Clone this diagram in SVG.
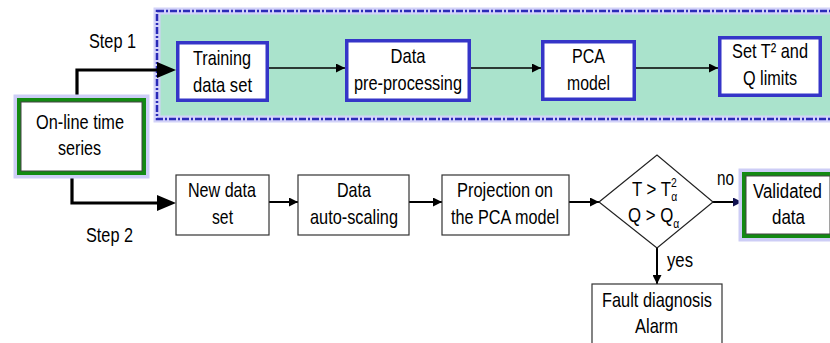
<svg xmlns="http://www.w3.org/2000/svg" width="830" height="343" viewBox="0 0 830 343">
<style>
text{font-family:"Liberation Sans",Arial,sans-serif;font-size:21px;fill:#000;text-anchor:middle}
.st{text-anchor:start}
.bbox{fill:#fff;stroke:#3535c8;stroke-width:3.5}
.pbox{fill:#fff;stroke:#333;stroke-width:1.2}
.glow{fill:none;stroke:#cdcdf6;stroke-width:7}
.gbox{fill:#fff;stroke:#138a13;stroke-width:4}
.inner{fill:none;stroke:#444;stroke-width:1}
.thin{fill:none;stroke:#000;stroke-width:1.6}
.thick{fill:none;stroke:#000;stroke-width:3.2}
</style>
<defs>
<marker id="a" viewBox="0 0 10 10" refX="10" refY="5" markerWidth="9" markerHeight="9" markerUnits="userSpaceOnUse" orient="auto"><path d="M0,0L10,5L0,10z" fill="#000"/></marker>
<marker id="an" viewBox="0 0 10 10" refX="10" refY="5" markerWidth="9" markerHeight="9" markerUnits="userSpaceOnUse" orient="auto"><path d="M0,0L10,5L0,10z" fill="#101050"/></marker>
</defs>

<g id="panel">
<rect x="157" y="11" width="690" height="108" fill="#aae3cc" stroke="#d2d2f8" stroke-width="7"/>
<rect x="157" y="11" width="690" height="108" fill="none" stroke="#2a2ab8" stroke-width="2.5" stroke-dasharray="7,2,2,2"/>
</g>

<g id="connectors">
<path class="thick" d="M77,98V70H162"/>
<path d="M157,62L176,70L157,78z" fill="#000"/>
<path class="thick" d="M72,175V203H162"/>
<path d="M157,195L176,203L157,211z" fill="#000"/>
<path class="thin" d="M269,68H345" marker-end="url(#a)"/>
<path class="thin" d="M471,68H541" marker-end="url(#a)"/>
<path class="thin" d="M636,68H718" marker-end="url(#a)"/>
<path class="thin" d="M269,202H298" marker-end="url(#a)" style="stroke-width:2"/>
<path class="thin" d="M409,202H442" marker-end="url(#a)" style="stroke-width:2"/>
<path class="thin" d="M569,202H599" marker-end="url(#a)" style="stroke-width:2"/>
<path class="thin" d="M713,202H742" marker-end="url(#an)" style="stroke-width:2"/>
<path class="thin" d="M657,248V284" marker-end="url(#a)" style="stroke-width:2"/>
<text x="112.5" y="48" textLength="47" lengthAdjust="spacingAndGlyphs">Step 1</text>
<text x="109.5" y="242" textLength="47" lengthAdjust="spacingAndGlyphs">Step 2</text>
<text class="st" x="717" y="185" textLength="17" lengthAdjust="spacingAndGlyphs">no</text>
<text class="st" x="667" y="267" textLength="26" lengthAdjust="spacingAndGlyphs">yes</text>
</g>

<g id="online">
<rect class="glow" x="17" y="98" width="129" height="77"/>
<rect class="gbox" x="19" y="100" width="125" height="73"/>
<rect class="inner" x="21" y="102" width="121" height="69"/>
<text x="80" y="129" textLength="88" lengthAdjust="spacingAndGlyphs">On-line time</text>
<text x="79.5" y="155" textLength="43" lengthAdjust="spacingAndGlyphs">series</text>
</g>

<g id="training">
<rect class="bbox" x="177.75" y="42.75" width="89.5" height="57.5"/>
<text x="222" y="65" textLength="58" lengthAdjust="spacingAndGlyphs">Training</text>
<text x="222.5" y="92" textLength="59" lengthAdjust="spacingAndGlyphs">data set</text>
</g>

<g id="preproc">
<rect class="bbox" x="346.75" y="40.75" width="122.5" height="59.5"/>
<text x="408" y="63" textLength="35" lengthAdjust="spacingAndGlyphs">Data</text>
<text x="408" y="90" textLength="108" lengthAdjust="spacingAndGlyphs">pre-processing</text>
</g>

<g id="pca">
<rect class="bbox" x="542.75" y="41.75" width="91.5" height="57.5"/>
<text x="588.5" y="63" textLength="33" lengthAdjust="spacingAndGlyphs">PCA</text>
<text x="588.5" y="90" textLength="43" lengthAdjust="spacingAndGlyphs">model</text>
</g>

<g id="limits">
<rect class="bbox" x="719.75" y="37.75" width="100.5" height="57.5"/>
<text x="770" y="58" textLength="76" lengthAdjust="spacingAndGlyphs">Set T²  and</text>
<text x="770" y="85" textLength="54" lengthAdjust="spacingAndGlyphs">Q limits</text>
</g>

<g id="newdata">
<rect class="pbox" x="176" y="175" width="93" height="60"/>
<text x="222" y="197" textLength="68" lengthAdjust="spacingAndGlyphs">New data</text>
<text x="222.5" y="224" textLength="21" lengthAdjust="spacingAndGlyphs">set</text>
</g>

<g id="autoscale">
<rect class="pbox" x="298" y="175" width="111" height="60"/>
<text x="354" y="197" textLength="34" lengthAdjust="spacingAndGlyphs">Data</text>
<text x="354" y="224" textLength="88" lengthAdjust="spacingAndGlyphs">auto-scaling</text>
</g>

<g id="projection">
<rect class="pbox" x="442" y="175" width="127" height="60"/>
<text x="505" y="197" textLength="96" lengthAdjust="spacingAndGlyphs">Projection on</text>
<text x="505" y="224" textLength="108" lengthAdjust="spacingAndGlyphs">the PCA model</text>
</g>

<g id="decision">
<path d="M599,202L657,155L713,202L657,248z" fill="#fff" stroke="#222" stroke-width="1.2"/>
<text class="st" transform="translate(632,196) scale(0.8,1)">T &gt; T<tspan font-size="13" dy="-9">2</tspan><tspan font-size="13" dx="-7" dy="14">α</tspan></text>
<text class="st" transform="translate(628,222) scale(0.8,1)">Q &gt; Q<tspan font-size="13" dy="6">α</tspan></text>
</g>

<g id="validated">
<rect class="glow" x="742" y="172" width="92" height="66"/>
<rect class="gbox" x="744" y="174" width="88" height="62"/>
<rect class="inner" x="746" y="176" width="84" height="58"/>
<text x="787.5" y="198" textLength="69" lengthAdjust="spacingAndGlyphs" style="font-size:20px">Validated</text>
<text x="788.5" y="224" textLength="33" lengthAdjust="spacingAndGlyphs">data</text>
</g>

<g id="fault">
<rect class="pbox" x="592" y="284" width="130" height="70"/>
<text x="657" y="307" textLength="110" lengthAdjust="spacingAndGlyphs">Fault diagnosis</text>
<text x="656.5" y="333" textLength="43" lengthAdjust="spacingAndGlyphs">Alarm</text>
</g>
</svg>
